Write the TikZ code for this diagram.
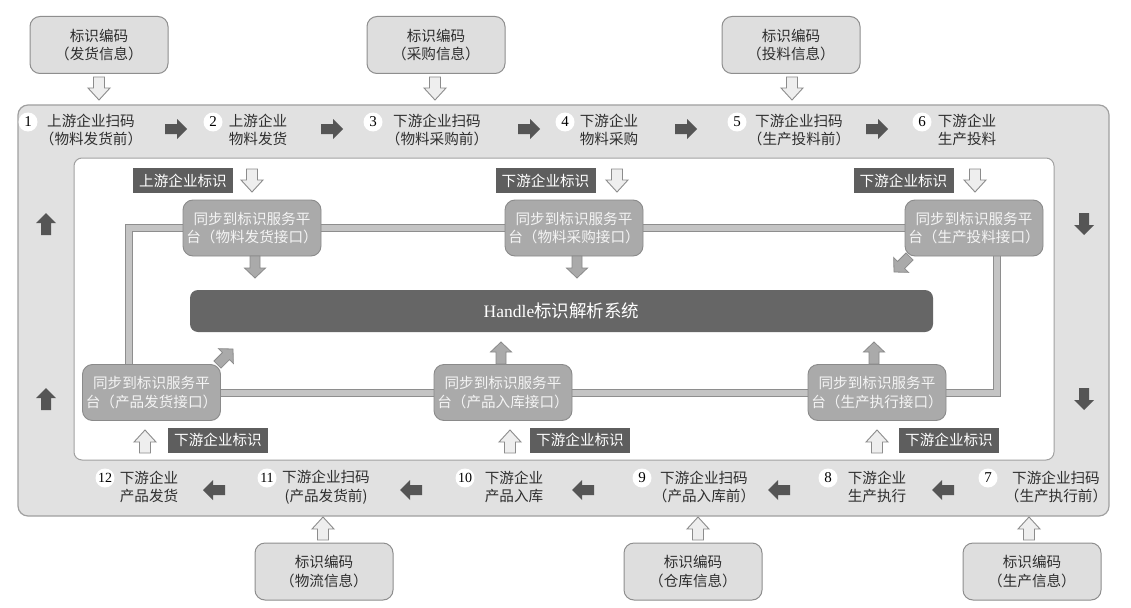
\documentclass[tikz,border=0pt]{standalone}
\usepackage{fontspec}
\setmainfont{Liberation Serif}
\newfontfamily\cjk{Noto Sans CJK SC}
\usetikzlibrary{calc,backgrounds}
\definecolor{framefill}{HTML}{E1E1E1}
\definecolor{framedraw}{HTML}{A0A0A0}
\definecolor{codefill}{HTML}{DEDEDE}
\definecolor{codedraw}{HTML}{8E8E8E}
\definecolor{syncfill}{HTML}{AAAAAA}
\definecolor{syncdraw}{HTML}{8A8A8A}
\definecolor{synctext}{HTML}{F4F4F4}
\definecolor{handlefill}{HTML}{666666}
\definecolor{labelfill}{HTML}{5E5E5E}
\definecolor{arrowdark}{HTML}{555555}
\definecolor{holfill}{HTML}{EEEEEE}
\definecolor{holdraw}{HTML}{8C8C8C}
\definecolor{linkfill}{HTML}{C4C4C4}
\definecolor{linkdraw}{HTML}{8E8E8E}
\definecolor{txt}{HTML}{2E2E2E}
\tikzset{
  codebox/.style={draw=codedraw, fill=codefill, rounded corners=10pt, line width=1pt,
    minimum width=138pt, minimum height=57pt, align=center},
  steptext/.style={align=center},
  stepnum/.style={circle, fill=white, minimum size=19pt, inner sep=0pt,
    font=\rmfamily\fontsize{15}{15}\selectfont, text=black},
  idlabel/.style={fill=labelfill, text=white, minimum width=100pt, minimum height=25pt},
  syncbox/.style={fill=syncfill, draw=syncdraw, line width=0.9pt, rounded corners=10pt,
    minimum width=138pt, minimum height=56pt, text=synctext, align=center},
  link/.style={draw=linkdraw, line width=1pt, double=linkfill, double distance=6pt},
  holarrow/.pic={\filldraw[fill=holfill, draw=holdraw, line width=0.9pt]
    (-23,-5.5) -- (-12,-5.5) -- (-12,-11) -- (0,0) -- (-12,11) -- (-12,5.5) -- (-23,5.5) -- cycle;},
  darkarrow/.pic={\fill[arrowdark]
    (-22,-5) -- (-10,-5) -- (-10,-10) -- (0,0) -- (-10,10) -- (-10,5) -- (-22,5) -- cycle;},
  grayarrow/.pic={\filldraw[fill=syncfill, draw=syncdraw, line width=0.8pt]
    (-22,-5) -- (-10,-5) -- (-10,-10.5) -- (0,0) -- (-10,10.5) -- (-10,5) -- (-22,5) -- cycle;}
}
\begin{document}
\begin{tikzpicture}[x=1pt, y=-1pt,
  every node/.style={font=\cjk\fontsize{14.6}{18.5}\selectfont, text=txt, inner sep=0pt}]
\useasboundingbox (0,0) rectangle (1131,607);

\begin{scope}[on background layer]
  \fill[white] (0,0) rectangle (1131,607);
  \node[draw=framedraw, fill=framefill, rounded corners=10pt, line width=1.2pt,
    minimum width=1091pt, minimum height=411pt] (frame) at (563.5,310.5) {};
  \node[draw=framedraw, fill=white, rounded corners=8pt, line width=1pt,
    minimum width=980pt, minimum height=302pt] (inner) at (564,309) {};
\end{scope}

% identification code boxes
\node[codebox] (b1) at (99,45) {标识编码\\（发货信息）};
\node[codebox] (b2) at (436,45) {标识编码\\（采购信息）};
\node[codebox] (b3) at (791,45) {标识编码\\（投料信息）};
\node[codebox] (b4) at (324,571.5) {标识编码\\（物流信息）};
\node[codebox] (b5) at (693,571.5) {标识编码\\（仓库信息）};
\node[codebox] (b6) at (1032,571.5) {标识编码\\（生产信息）};

% steps top row
\node[stepnum] (c1) at (28,122) {1};
\node[steptext] (t1) at (91,130) {上游企业扫码\\（物料发货前）};
\node[stepnum] (c2) at (213,122) {2};
\node[steptext] (t2) at (258,130) {上游企业\\物料发货};
\node[stepnum] (c3) at (373,122) {3};
\node[steptext] (t3) at (437,130) {下游企业扫码\\（物料采购前）};
\node[stepnum] (c4) at (565,122) {4};
\node[steptext] (t4) at (609,130) {下游企业\\物料采购};
\node[stepnum] (c5) at (737,122) {5};
\node[steptext] (t5) at (799,130) {下游企业扫码\\（生产投料前）};
\node[stepnum] (c6) at (922,122) {6};
\node[steptext] (t6) at (967,130) {下游企业\\生产投料};

% steps bottom row
\node[stepnum] (c7) at (988,478) {7};
\node[steptext] (t7) at (1056,487) {下游企业扫码\\（生产执行前）};
\node[stepnum] (c8) at (828,478) {8};
\node[steptext] (t8) at (877,487) {下游企业\\生产执行};
\node[stepnum] (c9) at (642,478) {9};
\node[steptext] (t9) at (704,487) {下游企业扫码\\（产品入库前）};
\node[stepnum, font=\rmfamily\fontsize{14}{14}\selectfont] (c10) at (465,478) {10};
\node[steptext] (t10) at (514,487) {下游企业\\产品入库};
\node[stepnum, font=\rmfamily\fontsize{14}{14}\selectfont] (c11) at (267,478) {11};
\node[steptext] (t11) at (326,487) {下游企业扫码\\(产品发货前)};
\node[stepnum, font=\rmfamily\fontsize{14}{14}\selectfont] (c12) at (105,478) {12};
\node[steptext] (t12) at (149,487) {下游企业\\产品发货};

% flow arrows
\pic at (187,129) {darkarrow};
\pic at (343,129) {darkarrow};
\pic at (540,129) {darkarrow};
\pic at (697,129) {darkarrow};
\pic at (888,129) {darkarrow};
\pic[rotate=180] at (203,490) {darkarrow};
\pic[rotate=180] at (400,490) {darkarrow};
\pic[rotate=180] at (572,490) {darkarrow};
\pic[rotate=180] at (768,490) {darkarrow};
\pic[rotate=180] at (932,490) {darkarrow};
\pic[rotate=90] at (46,213) {darkarrow};
\pic[rotate=90] at (46,388) {darkarrow};
\pic[rotate=-90] at (1084,235) {darkarrow};
\pic[rotate=-90] at (1084,410) {darkarrow};

% hollow arrows from code boxes
\pic[rotate=-90] at (99,100) {holarrow};
\pic[rotate=-90] at (435,100) {holarrow};
\pic[rotate=-90] at (792,100) {holarrow};
\pic[rotate=90] at (323,517) {holarrow};
\pic[rotate=90] at (698,517) {holarrow};
\pic[rotate=90] at (1029,517) {holarrow};

% enterprise identification labels
\node[idlabel] (l1) at (183,180.5) {上游企业标识};
\node[idlabel] (l2) at (545.5,180.5) {下游企业标识};
\node[idlabel] (l3) at (903.5,180.5) {下游企业标识};
\node[idlabel] (l4) at (218,440) {下游企业标识};
\node[idlabel] (l5) at (580,440) {下游企业标识};
\node[idlabel] (l6) at (949,440) {下游企业标识};
\pic[rotate=-90] at (252,192) {holarrow};
\pic[rotate=-90] at (617,192) {holarrow};
\pic[rotate=-90] at (975,192) {holarrow};
\pic[rotate=90] at (145,430) {holarrow};
\pic[rotate=90] at (510,430) {holarrow};
\pic[rotate=90] at (877,430) {holarrow};

% sync boxes
\node[syncbox] (s1) at (252,228) {同步到标识服务平\\台（物料发货接口）};
\node[syncbox] (s2) at (574,228) {同步到标识服务平\\台（物料采购接口）};
\node[syncbox] (s3) at (974,228) {同步到标识服务平\\台（生产投料接口）};
\node[syncbox] (s4) at (151.5,392.5) {同步到标识服务平\\台（产品发货接口）};
\node[syncbox] (s5) at (503,392.5) {同步到标识服务平\\台（产品入库接口）};
\node[syncbox] (s6) at (877,392.5) {同步到标识服务平\\台（生产执行接口）};

% Handle system
\node[fill=handlefill, rounded corners=8pt, minimum width=743pt, minimum height=42pt,
  text=white, font=\rmfamily\fontsize{17.5}{20}\selectfont] (h) at (561.5,311)
  {Handle{\cjk 标识解析系统}};

% arrows between sync boxes and Handle
\pic[rotate=-90] at (255,278) {grayarrow};
\pic[rotate=-90] at (577,278) {grayarrow};
\pic[rotate=-135] at (894,272) {grayarrow};
\pic[rotate=90] at (501,342) {grayarrow};
\pic[rotate=90] at (874,342) {grayarrow};
\pic[rotate=45] at (233,349) {grayarrow};

% links between sync boxes
\begin{scope}[on background layer]
  \draw[link] (s1.west) -| ([xshift=47pt]s4.north west);
  \draw[link] (s1.east) -- (s2.west);
  \draw[link] (s2.east) -- (s3.west);
  \draw[link] ([xshift=-46pt]s3.south east) |- (s6.east);
  \draw[link] (s4.east) -- (s5.west);
  \draw[link] (s5.east) -- (s6.west);
\end{scope}
\end{tikzpicture}
\end{document}
